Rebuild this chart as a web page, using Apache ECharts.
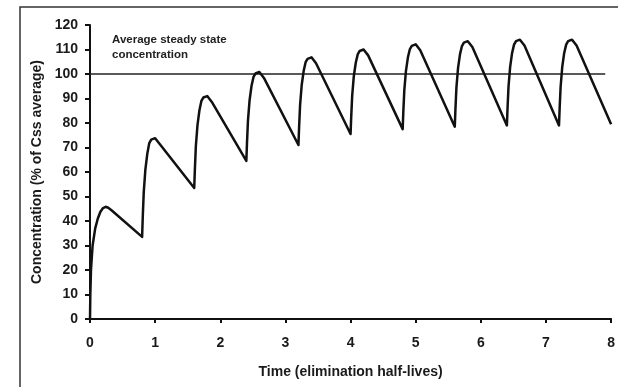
<!DOCTYPE html>
<html>
<head>
<meta charset="utf-8">
<script src="https://cdn.jsdelivr.net/npm/echarts@6/dist/echarts.min.js"></script>
<style>
  html, body { margin: 0; padding: 0; background: #fff; }
  #chart { width: 618px; height: 387px; }
</style>
</head>
<body>
<div id="chart"></div>
<script>
  // time in elimination half-lives
  var timeHalfLives = [
    0, 0.005, 0.015, 0.04, 0.08, 0.12, 0.16, 0.2, 0.24, 0.28, 0.33,
    0.8, 0.81, 0.825, 0.85, 0.88, 0.91, 0.94, 0.97, 1.0, 1.03, 1.07,
    1.6, 1.61, 1.625, 1.65, 1.68, 1.71, 1.74, 1.77, 1.8, 1.83, 1.87,
    2.4, 2.41, 2.425, 2.45, 2.48, 2.51, 2.54, 2.57, 2.6, 2.63, 2.67,
    3.2, 3.21, 3.225, 3.25, 3.28, 3.31, 3.34, 3.37, 3.4, 3.43, 3.47,
    4.0, 4.01, 4.025, 4.05, 4.08, 4.11, 4.14, 4.17, 4.2, 4.23, 4.27,
    4.8, 4.81, 4.825, 4.85, 4.88, 4.91, 4.94, 4.97, 5.0, 5.03, 5.07,
    5.6, 5.61, 5.625, 5.65, 5.68, 5.71, 5.74, 5.77, 5.8, 5.83, 5.87,
    6.4, 6.41, 6.425, 6.45, 6.48, 6.51, 6.54, 6.57, 6.6, 6.63, 6.67,
    7.2, 7.21, 7.225, 7.25, 7.28, 7.31, 7.34, 7.37, 7.4, 7.43, 7.47,
    8.0
  ];
  // concentration, % of Css average
  var concentration = [
    0, 10, 20, 30, 37, 41, 43.8, 45.3, 45.8, 45.4, 44.4,
    33.5, 41.6, 51.7, 61, 67.5, 71.8, 73.2, 73.9, 73.8, 73, 71.4,
    53.5, 61, 70.5, 79.1, 85.2, 89, 90.4, 91.1, 91, 90.2, 88.6,
    64.5, 71.8, 80.9, 89.3, 95.2, 98.8, 100.2, 100.9, 100.8, 100, 98.4,
    71, 78.2, 87.2, 95.5, 101.2, 104.8, 106.2, 106.9, 106.8, 106, 104.4,
    75.5, 82.4, 91.1, 99.1, 104.6, 108, 109.4, 110.1, 110, 109.2, 107.6,
    77.5, 84.5, 93.2, 101.2, 106.7, 110.1, 111.5, 112.2, 112.1, 111.3, 109.7,
    78.5, 85.5, 94.3, 102.4, 108, 111.4, 112.8, 113.5, 113.4, 112.6, 111,
    79, 86, 94.8, 102.9, 108.6, 112, 113.4, 114.1, 114, 113.2, 111.6,
    79, 86, 94.8, 102.9, 108.6, 112, 113.4, 114.1, 114, 113.2, 111.6,
    79.5
  ];
  var avgLevel = 100;
  var avgLineEnd = 7.91;
  var xTicks = [0, 1, 2, 3, 4, 5, 6, 7, 8];
  var yTicks = [0, 10, 20, 30, 40, 50, 60, 70, 80, 90, 100, 110, 120];

  var chart = echarts.init(document.getElementById('chart'));
  var font = 'Liberation Sans, Arial, sans-serif';

  chart.setOption({
    backgroundColor: '#fff',
    animation: false,
    textStyle: { fontFamily: font },
    grid: { left: 90, right: 4, top: 25, bottom: 68 },
    graphic: [
      {
        type: 'rect',
        shape: { x: 20, y: 7, width: 620, height: 400 },
        style: { fill: null, stroke: '#333', lineWidth: 1.5 },
        silent: true
      },
      {
        type: 'text',
        left: 112,
        top: 32,
        style: {
          text: 'Average steady state\nconcentration',
          font: 'bold 11.5px ' + font,
          fill: '#222',
          lineHeight: 15
        }
      }
    ],
    xAxis: {
      type: 'value',
      min: xTicks[0],
      max: xTicks[xTicks.length - 1],
      interval: 1,
      name: 'Time (elimination half-lives)',
      nameLocation: 'middle',
      nameGap: 46,
      nameTextStyle: { fontSize: 14, fontWeight: 'bold', color: '#1a1a1a' },
      axisLine: { lineStyle: { color: '#111', width: 2 } },
      axisTick: { show: true, length: 4, lineStyle: { color: '#111', width: 2 } },
      axisLabel: { fontSize: 14, fontWeight: 'bold', color: '#1a1a1a', margin: 17 },
      splitLine: { show: false }
    },
    yAxis: {
      type: 'value',
      min: yTicks[0],
      max: yTicks[yTicks.length - 1],
      interval: 10,
      name: 'Concentration (% of Css average)',
      nameLocation: 'middle',
      nameGap: 46,
      nameTextStyle: { fontSize: 14, fontWeight: 'bold', color: '#1a1a1a' },
      axisLine: { show: true, lineStyle: { color: '#111', width: 2 } },
      axisTick: { show: true, length: 5, lineStyle: { color: '#111', width: 2 } },
      axisLabel: { fontSize: 14, fontWeight: 'bold', color: '#1a1a1a', margin: 12 },
      splitLine: { show: false }
    },
    series: [
      {
        name: 'steady state',
        type: 'line',
        symbol: 'none',
        data: [[0, avgLevel], [avgLineEnd, avgLevel]],
        lineStyle: { color: '#222', width: 1.5 },
        z: 1
      },
      {
        name: 'concentration',
        type: 'line',
        symbol: 'none',
        smooth: false,
        data: timeHalfLives.map(function (t, i) { return [t, concentration[i]]; }),
        lineStyle: { color: '#111', width: 2.5, join: 'round' },
        z: 2
      }
    ]
  });
</script>
</body>
</html>
